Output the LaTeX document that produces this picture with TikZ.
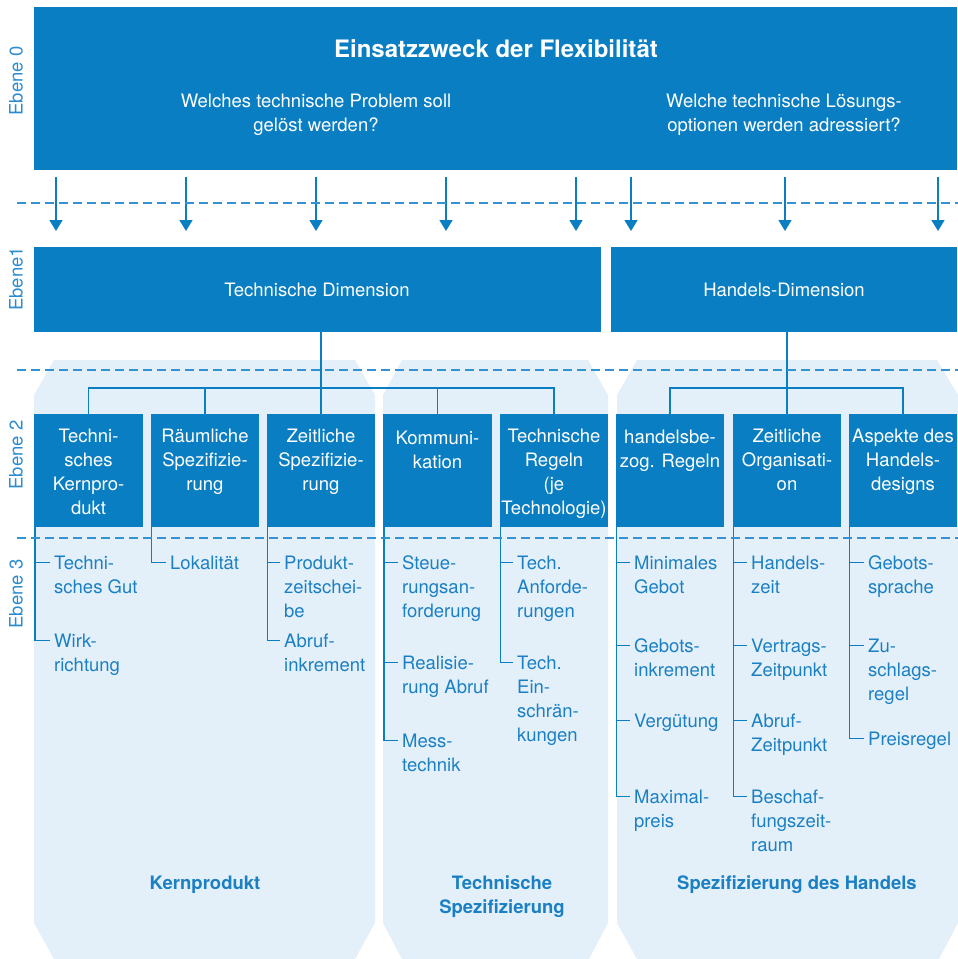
\documentclass[tikz,border=0pt]{standalone}
\usepackage{fontspec}
\setmainfont{TeX Gyre Heros}
\usetikzlibrary{arrows.meta}
\definecolor{dblue}{HTML}{0A7EC2}
\definecolor{lblue}{HTML}{E3F0F9}
\definecolor{tblue}{HTML}{1B80C3}
\definecolor{dashc}{HTML}{3392D1}
\definecolor{eblue}{HTML}{2A8CCF}
\begin{document}
\begin{tikzpicture}[x=1pt,y=-1pt,
  fs/.style={font=\fontsize{18.5}{24}\selectfont},
  panel/.style={fill=lblue},
  bigbox/.style={fill=dblue, inner sep=0},
  lvbox/.style={fill=dblue, inner sep=0, minimum width=108.5pt, minimum height=113pt},
  wtext/.style={text=white, fs, align=center, inner sep=0, anchor=north},
  item/.style={text=tblue, fs, align=left, inner sep=0, anchor=north west},
  tree/.style={draw=dblue, line width=1.3pt},
  dashl/.style={draw=dashc, line width=1.2pt, dash pattern=on 9pt off 5pt},
  arr/.style={draw=dblue, line width=1.5pt, -{Triangle[width=13pt,length=11pt]}},
  ebene/.style={text=eblue, fs, rotate=90, inner sep=0, anchor=center},
  bottomlab/.style={text=tblue, font=\fontsize{18.5}{24.5}\selectfont\bfseries, align=center, inner sep=0, anchor=north}
]
\useasboundingbox (0,0) rectangle (958,959);

% background panels
\path[panel] (34,395) -- (54,360) -- (355,360) -- (375,395) -- (375,923) -- (355,959) -- (54,959) -- (34,923) -- cycle;
\path[panel] (383,395) -- (402,360) -- (588,360) -- (608,395) -- (608,923) -- (589,959) -- (402,959) -- (383,923) -- cycle;
\path[panel] (617,395) -- (637,360) -- (937,360) -- (958,395) -- (958,923) -- (939,959) -- (637,959) -- (617,923) -- cycle;

% level 0
\node[bigbox, minimum width=923pt, minimum height=163pt] (top) at (495.5,88.5) {};
\node[text=white, font=\fontsize{24}{30}\selectfont\bfseries, inner sep=0, anchor=base] (title) at (496,57) {Einsatzzweck der Flexibilität};
\node[wtext] (q1) at (316,90.2) {\strut Welches technische Problem soll\\gelöst werden?};
\node[wtext] (q2) at (784,90.2) {\strut Welche technische Lösungs-\\optionen werden adressiert?};

% level 1
\node[bigbox, minimum width=567pt, minimum height=85pt] (td) at (317.5,289.5) {};
\node[bigbox, minimum width=346pt, minimum height=85pt] (hd) at (784,289.5) {};
\node[text=white, fs, inner sep=0, anchor=base] (tdt) at (317,296.5) {Technische Dimension};
\node[text=white, fs, inner sep=0, anchor=base] (hdt) at (784,296.5) {Handels-Dimension};

% arrows
\foreach \x [count=\i] in {56,186,316,446,576,631,785,938}{
  \coordinate (as\i) at (\x,177);
  \coordinate (ae\i) at (\x,231);
  \draw[arr] (as\i) -- (ae\i);
}

% level 2 boxes
\node[lvbox] (b1) at (88.5,470.5) {};
\node[lvbox] (b2) at (205,470.5) {};
\node[lvbox] (b3) at (321,470.5) {};
\node[lvbox] (b4) at (437.5,470.5) {};
\node[lvbox] (b5) at (554,470.5) {};
\node[lvbox] (b6) at (670,470.5) {};
\node[lvbox] (b7) at (787,470.5) {};
\node[lvbox] (b8) at (903,470.5) {};
\node[wtext] (t1) at ([yshift=-12pt]b1.north) {\strut Techni-\\sches\\Kernpro-\\dukt};
\node[wtext] (t2) at ([yshift=-12pt]b2.north) {\strut Räumliche\\Spezifizie-\\rung};
\node[wtext] (t3) at ([yshift=-12pt]b3.north) {\strut Zeitliche\\Spezifizie-\\rung};
\node[wtext] (t4) at ([yshift=-14pt]b4.north) {\strut Kommuni-\\kation};
\node[wtext] (t5) at ([yshift=-12pt]b5.north) {\strut Technische\\Regeln\\(je\\Technologie)};
\node[wtext] (t6) at ([yshift=-13pt]b6.north) {\strut handelsbe-\\zog. Regeln};
\node[wtext] (t7) at ([yshift=-12pt]b7.north) {\strut Zeitliche\\Organisati-\\on};
\node[wtext] (t8) at ([yshift=-12pt]b8.north) {\strut Aspekte des\\Handels-\\designs};

% tree level 1 -> 2
\coordinate (tbar) at (0,388);
\draw[tree] (td.south -| b3.north) -- (b3.north);
\draw[tree] (b1.north) -- (b1.north |- tbar) -- (b5.north |- tbar) -- (b5.north);
\draw[tree] (b2.north) -- (b2.north |- tbar);
\draw[tree] (b4.north) -- (b4.north |- tbar);
\draw[tree] (hd.south -| b7.north) -- (b7.north);
\draw[tree] (b6.north) -- (b6.north |- tbar) -- (b8.north |- tbar) -- (b8.north);

% level 3 items
\node[item] (i11) at (54,552) {\strut Techni-\\sches Gut};
\node[item] (i12) at (54,630) {\strut Wirk-\\richtung};
\node[item] (i21) at (170,552) {\strut Lokalität};
\node[item] (i31) at (284,552) {\strut Produkt-\\zeitschei-\\be};
\node[item] (i32) at (284,630) {\strut Abruf-\\inkrement};
\node[item] (i41) at (402,552) {\strut Steue-\\rungsan-\\forderung};
\node[item] (i42) at (402,652) {\strut Realisie-\\rung Abruf};
\node[item] (i43) at (402,730) {\strut Mess-\\technik};
\node[item] (i51) at (517,552) {\strut Tech.\\Anforde-\\rungen};
\node[item] (i52) at (517,652) {\strut Tech.\\Ein-\\schrän-\\kungen};
\node[item] (i61) at (634,552) {\strut Minimales\\Gebot};
\node[item] (i62) at (634,635) {\strut Gebots-\\inkrement};
\node[item] (i63) at (634,710) {\strut Vergütung};
\node[item] (i64) at (634,786) {\strut Maximal-\\preis};
\node[item] (i71) at (751,552) {\strut Handels-\\zeit};
\node[item] (i72) at (751,635) {\strut Vertrags-\\Zeitpunkt};
\node[item] (i73) at (751,710) {\strut Abruf-\\Zeitpunkt};
\node[item] (i74) at (751,786) {\strut Beschaf-\\fungszeit-\\raum};
\node[item] (i81) at (868,552) {\strut Gebots-\\sprache};
\node[item] (i82) at (868,635) {\strut Zu-\\schlags-\\regel};
\node[item] (i83) at (868,728) {\strut Preisregel};

% level 3 ticks
\foreach \b/\i in {b1/i11,b1/i12,b2/i21,b3/i31,b3/i32,b4/i41,b4/i42,b4/i43,b5/i51,b5/i52,b6/i61,b6/i62,b6/i63,b6/i64,b7/i71,b7/i72,b7/i73,b7/i74,b8/i81,b8/i82,b8/i83}{
  \draw[tree] ([xshift=1pt]\b.south west) |- ([xshift=-4pt,yshift=-10.3pt]\i.north west);
}

% dashed level separators
\coordinate (d1a) at (17,203); \coordinate (d1b) at (958,203);
\coordinate (d2a) at (17,370); \coordinate (d2b) at (958,370);
\coordinate (d3a) at (17,538); \coordinate (d3b) at (958,538);
\draw[dashl] (d1a) -- (d1b);
\draw[dashl] (d2a) -- (d2b);
\draw[dashl] (d3a) -- (d3b);

% level labels
\node[ebene] (e0) at (16,81) {Ebene 0};
\node[ebene] (e1) at (16,279) {Ebene1};
\node[ebene] (e2) at (16,455) {Ebene 2};
\node[ebene] (e3) at (16,594) {Ebene 3};

% bottom labels
\node[bottomlab] (lab1) at (205,872) {\strut Kernprodukt};
\node[bottomlab] (lab2) at (502,872) {\strut Technische\\Spezifizierung};
\node[bottomlab] (lab3) at (797,872) {\strut Spezifizierung des Handels};
\end{tikzpicture}
\end{document}
